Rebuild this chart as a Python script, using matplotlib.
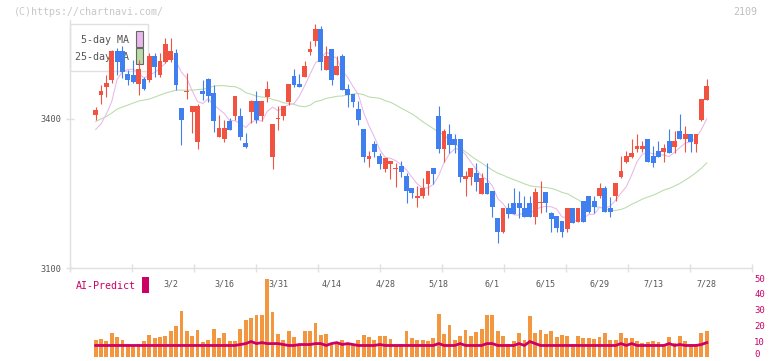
import numpy as np
import pandas as pd
import matplotlib
matplotlib.use('Agg')
import matplotlib.pyplot as plt
from matplotlib.patches import Rectangle

plt.rcParams['font.family'] = ['DejaVu Sans Mono']

# ---------------- data ----------------
opens = [3408, 3448, 3465, 3479, 3537, 3537, 3491, 3489, 3470, 3481,
         3479, 3527, 3489, 3515, 3519, 3533, 3422, 3456, 3414, 3354,
         3457, 3481, 3453, 3364, 3360, 3396, 3405, 3406, 3352, 3415,
         3436, 3405, 3445, 3324, 3400, 3405, 3435, 3487, 3470, 3485,
         3535, 3556, 3581, 3499, 3541, 3489, 3527, 3460, 3450, 3420,
         3380, 3319, 3350, 3326, 3299, 3309, 3301, 3305, 3285, 3261,
         3241, 3244, 3270, 3302, 3406, 3340, 3370, 3360, 3360, 3279,
         3283, 3292, 3249, 3271, 3255, 3201, 3173, 3221, 3231, 3231,
         3221, 3231, 3203, 3231, 3252, 3211, 3205, 3195, 3179, 3221,
         3193, 3235, 3245, 3235, 3244, 3262, 3221, 3244, 3284, 3314,
         3324, 3340, 3340, 3360, 3326, 3336, 3334, 3356, 3344, 3376,
         3359, 3370, 3349, 3398, 3438]
highs = [3424, 3468, 3489, 3539, 3543, 3546, 3499, 3519, 3519, 3485,
         3533, 3533, 3533, 3563, 3563, 3541, 3422, 3493, 3426, 3430,
         3479, 3483, 3468, 3408, 3398, 3402, 3446, 3422, 3372, 3438,
         3457, 3436, 3476, 3390, 3426, 3426, 3470, 3501, 3491, 3517,
         3557, 3591, 3587, 3547, 3541, 3527, 3531, 3470, 3450, 3436,
         3380, 3336, 3356, 3332, 3321, 3315, 3311, 3315, 3291, 3261,
         3265, 3281, 3295, 3302, 3426, 3380, 3390, 3370, 3360, 3295,
         3301, 3311, 3291, 3311, 3255, 3201, 3221, 3231, 3261, 3255,
         3245, 3245, 3261, 3276, 3252, 3213, 3205, 3195, 3221, 3221,
         3221, 3235, 3245, 3245, 3271, 3265, 3242, 3271, 3326, 3336,
         3360, 3370, 3356, 3360, 3346, 3356, 3350, 3380, 3376, 3410,
         3386, 3370, 3370, 3440, 3481]
lows = [3398, 3430, 3445, 3472, 3489, 3483, 3468, 3472, 3448, 3458,
        3474, 3485, 3485, 3513, 3515, 3458, 3348, 3440, 3372, 3340,
        3438, 3434, 3374, 3364, 3354, 3378, 3398, 3358, 3342, 3392,
        3392, 3395, 3435, 3299, 3378, 3398, 3428, 3465, 3465, 3485,
        3529, 3546, 3499, 3499, 3468, 3489, 3458, 3425, 3425, 3388,
        3314, 3304, 3324, 3299, 3294, 3279, 3264, 3284, 3231, 3241,
        3223, 3241, 3247, 3269, 3332, 3314, 3332, 3332, 3274, 3244,
        3267, 3254, 3249, 3249, 3203, 3150, 3171, 3201, 3209, 3201,
        3203, 3203, 3189, 3211, 3213, 3173, 3173, 3163, 3173, 3191,
        3193, 3193, 3211, 3211, 3241, 3213, 3203, 3234, 3281, 3311,
        3321, 3334, 3334, 3314, 3304, 3324, 3314, 3331, 3331, 3359,
        3334, 3334, 3334, 3395, 3438]
closes = [3418, 3457, 3472, 3537, 3515, 3495, 3479, 3475, 3501, 3460,
          3527, 3505, 3517, 3551, 3537, 3468, 3398, 3456, 3426, 3426,
          3450, 3446, 3395, 3382, 3382, 3378, 3446, 3364, 3344, 3436,
          3398, 3436, 3460, 3390, 3400, 3426, 3470, 3468, 3465, 3507,
          3541, 3581, 3515, 3527, 3479, 3507, 3458, 3448, 3435, 3398,
          3324, 3326, 3334, 3309, 3321, 3315, 3301, 3294, 3254, 3251,
          3245, 3261, 3295, 3289, 3340, 3376, 3348, 3348, 3284, 3285,
          3301, 3274, 3281, 3249, 3223, 3173, 3221, 3209, 3209, 3221,
          3203, 3203, 3252, 3231, 3231, 3199, 3181, 3173, 3221, 3191,
          3221, 3193, 3213, 3223, 3261, 3213, 3213, 3271, 3295, 3326,
          3332, 3346, 3346, 3314, 3311, 3324, 3342, 3331, 3356, 3359,
          3370, 3354, 3370, 3440, 3466]
# moving-average values before a full window is available
ma5_head = [3379, 3390, 3410, 3435]
ma25_head = [3395, 3400, 3405, 3412, 3420, 3424, 3428, 3432, 3436, 3438,
             3440, 3444, 3448, 3452, 3455, 3458, 3458, 3458, 3458, 3459,
             3460, 3462, 3466, 3467]
volumes = [11.1, 11.7, 10.5, 15.5, 13.0, 11.1, 8.6, 7.4, 8.6, 10.5,
           14.3, 12.4, 13.0, 13.6, 16.8, 19.9, 29.4, 16.4, 13.6, 17.4,
           9.9, 11.1, 18.1, 12.4, 15.5, 10.5, 10.5, 18.1, 23.7, 25.0,
           26.9, 26.9, 49.5, 28.7, 14.9, 11.1, 16.8, 13.0, 8.6, 16.8,
           16.8, 21.8, 14.3, 14.9, 8.6, 9.9, 11.1, 8.6, 8.6, 11.1,
           14.3, 13.0, 11.1, 13.2, 13.2, 11.8, 8.0, 8.6, 16.8, 12.4,
           11.1, 11.1, 10.5, 12.4, 27.5, 14.9, 20.6, 11.1, 13.6, 17.4,
           13.6, 16.2, 18.1, 26.9, 26.9, 16.8, 13.6, 8.6, 10.5, 15.5,
           11.1, 26.3, 15.5, 17.4, 14.9, 16.8, 13.0, 14.3, 13.6, 8.6,
           13.6, 12.4, 12.4, 11.8, 13.0, 15.5, 11.1, 11.1, 15.5, 12.4,
           12.4, 10.5, 9.2, 9.9, 10.5, 9.9, 8.6, 13.0, 9.2, 13.6,
           10.5, 8.6, 8.6, 15.5, 16.8]
ai_predict = [7.4, 7.4, 7.4, 7.4, 7.4, 7.4, 7.4, 7.4, 7.4, 7.4,
              7.4, 7.4, 7.4, 7.4, 7.4, 7.4, 7.4, 7.4, 7.4, 7.4,
              7.4, 7.4, 7.4, 7.4, 7.4, 7.4, 7.4, 8.0, 8.6, 9.9,
              8.6, 9.2, 8.6, 8.6, 8.6, 8.0, 7.4, 7.4, 8.0, 8.0,
              8.0, 8.6, 8.6, 7.4, 8.6, 9.2, 8.0, 8.6, 8.0, 7.4,
              7.4, 7.4, 7.4, 8.0, 7.4, 7.4, 7.4, 7.4, 7.4, 7.4,
              7.4, 7.4, 7.4, 7.4, 8.6, 7.4, 7.4, 7.4, 8.6, 7.4,
              7.4, 7.4, 7.4, 8.6, 8.6, 7.4, 7.4, 7.4, 7.4, 8.6,
              7.4, 9.9, 8.6, 7.4, 7.4, 7.4, 7.4, 7.4, 7.4, 7.4,
              7.4, 7.4, 7.4, 7.4, 7.4, 7.4, 7.4, 7.4, 8.6, 7.4,
              8.6, 7.4, 7.4, 7.4, 7.4, 7.4, 7.4, 8.6, 7.4, 8.0,
              7.4, 7.4, 7.4, 8.0, 9.2]
date_labels = ['3/2', '3/16', '3/31', '4/14', '4/28', '5/18', '6/1',
               '6/15', '6/29', '7/13', '7/28']
date_label_idx = [14, 24, 34, 44, 54, 64, 74, 84, 94, 104, 114]
price_ticks = [3100, 3400]
vol_ticks = [0, 10, 20, 30, 40, 50]

# ---------------- styles ----------------
RED = '#f05342'
BLUE = '#3f7ff0'
ORANGE = '#f2963f'
CRIMSON = '#cc0066'
PINK = '#e8b8ea'
GREEN = '#b8dca8'
GRID = '#e0e0e0'
TXT = '#555555'

o = np.array(opens, float); h = np.array(highs, float)
l = np.array(lows, float); c = np.array(closes, float)
n = len(c)
x = np.arange(n)

ma5 = pd.Series(c).rolling(5).mean().to_numpy()
ma5[:len(ma5_head)] = ma5_head
ma25 = pd.Series(c).rolling(25).mean().to_numpy()
ma25[:len(ma25_head)] = ma25_head

W, H = 772, 361
fig = plt.figure(figsize=(W / 100, H / 100), dpi=100)
fig.patch.set_facecolor('white')

def fx(px):
    return px / W

def fy(py):
    return 1 - py / H

ax = fig.add_axes([fx(70), fy(268), fx(752) - fx(70), fy(19.6) - fy(268)])
axv = fig.add_axes([fx(70), fy(357.2), fx(752) - fx(70), fy(278) - fy(357.2)])

xlo, xhi = -4.79, 122.45
ax.set_xlim(xlo, xhi)
axv.set_xlim(xlo, xhi)
ax.set_ylim(3100, 3600)

# legend box (drawn below the candles)
ax.add_patch(Rectangle((0, (268 - 71) / 248.4), (148 - 70) / 682, (71 - 24) / 248.4,
                       transform=ax.transAxes, facecolor='white', edgecolor=GRID,
                       lw=1.0, zorder=1, clip_on=False))
ax.text((129 - 70) / 682, (268 - 40) / 248.4, '5-day MA', transform=ax.transAxes,
        ha='right', va='center', fontsize=7.2, color=TXT, zorder=1.1)
ax.text((129 - 70) / 682, (268 - 56.5) / 248.4, '25-day MA', transform=ax.transAxes,
        ha='right', va='center', fontsize=7.2, color=TXT, zorder=1.1)
ax.add_patch(Rectangle(((136 - 70) / 682, (268 - 46.7) / 248.4), 6.5 / 682, 15.5 / 248.4,
                       transform=ax.transAxes, facecolor=PINK, edgecolor='#666666',
                       lw=0.8, zorder=1.1))
ax.add_patch(Rectangle(((136 - 70) / 682, (268 - 63.5) / 248.4), 6.5 / 682, 15.5 / 248.4,
                       transform=ax.transAxes, facecolor=GREEN, edgecolor='#666666',
                       lw=0.8, zorder=1.1))

# moving averages
ax.plot(x, ma25, color=GREEN, lw=0.75, zorder=2)
ax.plot(x, ma5, color=PINK, lw=0.75, zorder=2)

# candles
up = c >= o
cols = np.where(up, RED, BLUE)
ax.vlines(x, l, h, colors=cols, lw=0.8, zorder=3)
bottoms = np.minimum(o, c)
heights = np.abs(c - o)
heights = np.where(heights < 2, 2.0, heights)
bottoms = np.where(np.abs(c - o) < 2, c - 1, bottoms)
ax.bar(x, heights, bottom=bottoms, width=0.9, color=cols, zorder=4, linewidth=0)

# axes styling
for s in ['top', 'right']:
    ax.spines[s].set_visible(False)
for s in ['left', 'bottom']:
    ax.spines[s].set_color(GRID)
    ax.spines[s].set_linewidth(1.0)
ax.set_yticks(price_ticks)
ax.set_yticklabels([str(t) for t in price_ticks])
ax.tick_params(axis='y', direction='inout', length=6, width=1, color=GRID,
               labelcolor=TXT, labelsize=6.2, pad=3)
ax.set_xticks(date_label_idx)
ax.set_xticklabels(date_labels)
ax.set_xticks([xlo + 11.567 * k for k in range(12)], minor=True)
ax.tick_params(axis='x', which='major', length=0, labelcolor=TXT, labelsize=6, pad=8.2)
ax.tick_params(axis='x', which='minor', direction='inout', length=6, width=1, color=GRID)

# volume panel
axv.bar(x, volumes, width=0.72, color=ORANGE, linewidth=0, zorder=2)
axv.plot(x, ai_predict, color=CRIMSON, lw=2.0, zorder=3)
axv.set_ylim(0, 50)
for s in axv.spines.values():
    s.set_visible(False)
axv.set_xticks([])
axv.yaxis.tick_right()
axv.set_yticks(vol_ticks)
axv.set_yticklabels([str(t) for t in vol_ticks])
axv.tick_params(axis='y', length=0, labelcolor=CRIMSON, labelsize=6.5, pad=1.5)
axv.patch.set_alpha(0)
for lab in axv.get_yticklabels():
    if lab.get_text() == '0':
        lab.set_va('baseline')

fig.text(fx(76), fy(286), 'AI-Predict', color=CRIMSON, fontsize=7.2, ha='left', va='center')
fig.patches.append(Rectangle((fx(142.3), fy(292.7)), fx(6.7), 16 / H,
                             transform=fig.transFigure, facecolor=CRIMSON, edgecolor='none'))

# watermark texts
fig.text(fx(14), fy(12), '(C)https://chartnavi.com/', color='#c8c8c8', fontsize=7.2,
         ha='left', va='center')
fig.text(fx(757), fy(12), '2109', color='#c0c0c0', fontsize=7.2, ha='right', va='center')

fig.savefig('out.png', dpi=100, facecolor='white')
